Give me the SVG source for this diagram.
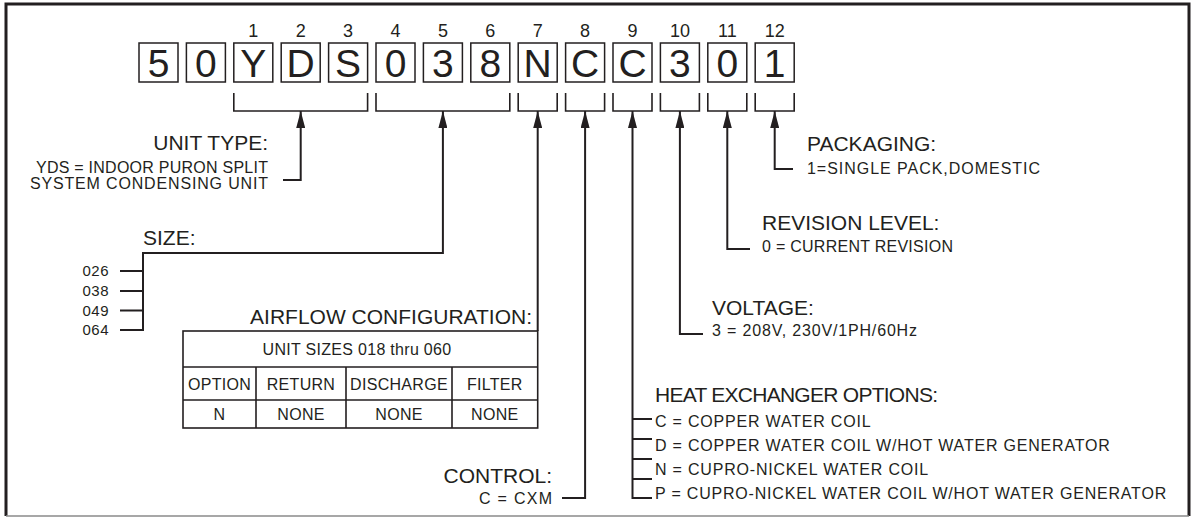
<svg xmlns="http://www.w3.org/2000/svg" width="1192" height="518" viewBox="0 0 1192 518">
<defs>
<style>
text{font-family:"Liberation Sans",Arial,Helvetica,sans-serif;fill:#231f20}
.bx{fill:#fff;stroke:#231f20;stroke-width:1.5}
.dg{font-size:39px;text-anchor:middle}
.pos{font-size:18px;text-anchor:middle}
.ln{fill:none;stroke:#231f20;stroke-width:2}
.tk{fill:none;stroke:#231f20;stroke-width:1.6}
.tl{font-size:21px}
.it{font-size:16px;letter-spacing:0.8px}
.sz{font-size:15px;letter-spacing:0.5px}
.tc{font-size:16px;text-anchor:middle;letter-spacing:0.3px}
.end{text-anchor:end}
.ar{fill:none;stroke:#231f20;stroke-width:2}
</style>
<marker id="ah" viewBox="0 -4.5 17 9" refX="17" refY="0" markerWidth="17" markerHeight="9" markerUnits="userSpaceOnUse" orient="auto">
<path d="M0,-4.5 L17,0 L0,4.5 z" fill="#231f20"/>
</marker>
</defs>
<rect width="1192" height="518" fill="#fff"/>
<g id="frame">
<path d="M6,516 V4 H1189 V516" fill="none" stroke="#231f20" stroke-width="3"/>
<path d="M6,516 H1189" fill="none" stroke="#8a8a8a" stroke-width="1.5"/>
</g>
<g id="code">
<g id="c0"><rect class="bx" x="139" y="43" width="39" height="39"/><text class="dg" x="158.5" y="77">5</text></g>
<g id="c1"><rect class="bx" x="186.4" y="43" width="39" height="39"/><text class="dg" x="205.9" y="77">0</text></g>
<g id="c2"><rect class="bx" x="233.8" y="43" width="39" height="39"/><text class="dg" x="253.3" y="77">Y</text><text class="pos" x="253.3" y="37">1</text></g>
<g id="c3"><rect class="bx" x="281.2" y="43" width="39" height="39"/><text class="dg" x="300.7" y="77">D</text><text class="pos" x="300.7" y="37">2</text></g>
<g id="c4"><rect class="bx" x="328.6" y="43" width="39" height="39"/><text class="dg" x="348.1" y="77">S</text><text class="pos" x="348.1" y="37">3</text></g>
<g id="c5"><rect class="bx" x="376" y="43" width="39" height="39"/><text class="dg" x="395.5" y="77">0</text><text class="pos" x="395.5" y="37">4</text></g>
<g id="c6"><rect class="bx" x="423.4" y="43" width="39" height="39"/><text class="dg" x="442.9" y="77">3</text><text class="pos" x="442.9" y="37">5</text></g>
<g id="c7"><rect class="bx" x="470.8" y="43" width="39" height="39"/><text class="dg" x="490.3" y="77">8</text><text class="pos" x="490.3" y="37">6</text></g>
<g id="c8"><rect class="bx" x="518.2" y="43" width="39" height="39"/><text class="dg" x="537.7" y="77">N</text><text class="pos" x="537.7" y="37">7</text></g>
<g id="c9"><rect class="bx" x="565.6" y="43" width="39" height="39"/><text class="dg" x="585.1" y="77">C</text><text class="pos" x="585.1" y="37">8</text></g>
<g id="c10"><rect class="bx" x="613" y="43" width="39" height="39"/><text class="dg" x="632.5" y="77">C</text><text class="pos" x="632.5" y="37">9</text></g>
<g id="c11"><rect class="bx" x="660.4" y="43" width="39" height="39"/><text class="dg" x="679.9" y="77">3</text><text class="pos" x="679.9" y="37">10</text></g>
<g id="c12"><rect class="bx" x="707.8" y="43" width="39" height="39"/><text class="dg" x="727.3" y="77">0</text><text class="pos" x="727.3" y="37">11</text></g>
<g id="c13"><rect class="bx" x="755.2" y="43" width="39" height="39"/><text class="dg" x="774.7" y="77">1</text><text class="pos" x="774.7" y="37">12</text></g>
</g>
<g id="connectors">
<path class="tk" d="M233.8,93 V111 H367.6 V93"/>
<path class="tk" d="M376,93 V111 H509.8 V93"/>
<path class="tk" d="M518.2,93 V111 H557.2 V93"/>
<path class="tk" d="M565.6,93 V111 H604.6 V93"/>
<path class="tk" d="M613,93 V111 H652 V93"/>
<path class="tk" d="M660.4,93 V111 H699.4 V93"/>
<path class="tk" d="M707.8,93 V111 H746.8 V93"/>
<path class="tk" d="M755.2,93 V111 H794.2 V93"/>
<path class="ar" marker-end="url(#ah)" d="M283,180 H300.7 V111"/>
<path class="ar" marker-end="url(#ah)" d="M120,330 H143 V253 H442.9 V111"/>
<path class="ar" d="M120,271 H143 M120,291 H143 M120,310.5 H143"/>
<path class="ar" marker-end="url(#ah)" d="M537.7,331 V111"/>
<path class="ar" marker-end="url(#ah)" d="M562,498 H585.1 V111"/>
<path class="ar" marker-end="url(#ah)" d="M652,498 H632.5 V111"/>
<path class="ar" d="M632.5,419 H652 M632.5,439 H652 M632.5,459 H652 M632.5,479 H652"/>
<path class="ar" marker-end="url(#ah)" d="M703,334 H679.9 V111"/>
<path class="ar" marker-end="url(#ah)" d="M750,249 H727.3 V111"/>
<path class="ar" marker-end="url(#ah)" d="M793,169 H774.7 V111"/>
</g>
<g id="unit-type">
<text class="tl end" x="268" y="150">UNIT TYPE:</text>
<text class="end" x="268" y="173" font-size="16" textLength="232">YDS = INDOOR PURON SPLIT</text>
<text class="end" x="268" y="189" font-size="16" textLength="238">SYSTEM CONDENSING UNIT</text>
</g>
<g id="size">
<text class="tl" x="143" y="245">SIZE:</text>
<text class="sz end" x="109" y="276">026</text>
<text class="sz end" x="109" y="296">038</text>
<text class="sz end" x="109" y="315.5">049</text>
<text class="sz end" x="109" y="335">064</text>
</g>
<g id="airflow">
<text class="tl end" x="532" y="324">AIRFLOW CONFIGURATION:</text>
<rect x="183" y="331" width="354.7" height="97" fill="none" stroke="#231f20" stroke-width="1.6"/>
<path class="tk" d="M183,367 H537.7 M183,400 H537.7 M256,367 V428 M346,367 V428 M452,367 V428"/>
<text class="tc" x="357" y="355">UNIT SIZES 018 thru 060</text>
<text class="tc" x="219.5" y="389.5">OPTION</text>
<text class="tc" x="301" y="389.5">RETURN</text>
<text class="tc" x="399" y="389.5">DISCHARGE</text>
<text class="tc" x="494.8" y="389.5">FILTER</text>
<text class="tc" x="219.5" y="420">N</text>
<text class="tc" x="301" y="420">NONE</text>
<text class="tc" x="399" y="420">NONE</text>
<text class="tc" x="494.8" y="420">NONE</text>
</g>
<g id="control">
<text class="tl end" x="552" y="483">CONTROL:</text>
<text class="end" x="552" y="504" font-size="16" textLength="73">C = CXM</text>
</g>
<g id="heat-exchanger">
<text class="tl" x="655" y="402" textLength="283">HEAT EXCHANGER OPTIONS:</text>
<text class="it" x="655" y="427">C = COPPER WATER COIL</text>
<text class="it" x="655" y="451">D = COPPER WATER COIL W/HOT WATER GENERATOR</text>
<text class="it" x="655" y="474.5">N = CUPRO-NICKEL WATER COIL</text>
<text class="it" x="655" y="498.5">P = CUPRO-NICKEL WATER COIL W/HOT WATER GENERATOR</text>
</g>
<g id="voltage">
<text class="tl" x="712" y="315">VOLTAGE:</text>
<text x="712" y="336" font-size="16" textLength="205">3 = 208V, 230V/1PH/60Hz</text>
</g>
<g id="revision">
<text class="tl" x="762" y="230">REVISION LEVEL:</text>
<text x="762" y="252" font-size="16" textLength="191">0 = CURRENT REVISION</text>
</g>
<g id="packaging">
<text class="tl" x="807" y="151">PACKAGING:</text>
<text x="807" y="174" font-size="16" textLength="233">1=SINGLE PACK,DOMESTIC</text>
</g>
</svg>
